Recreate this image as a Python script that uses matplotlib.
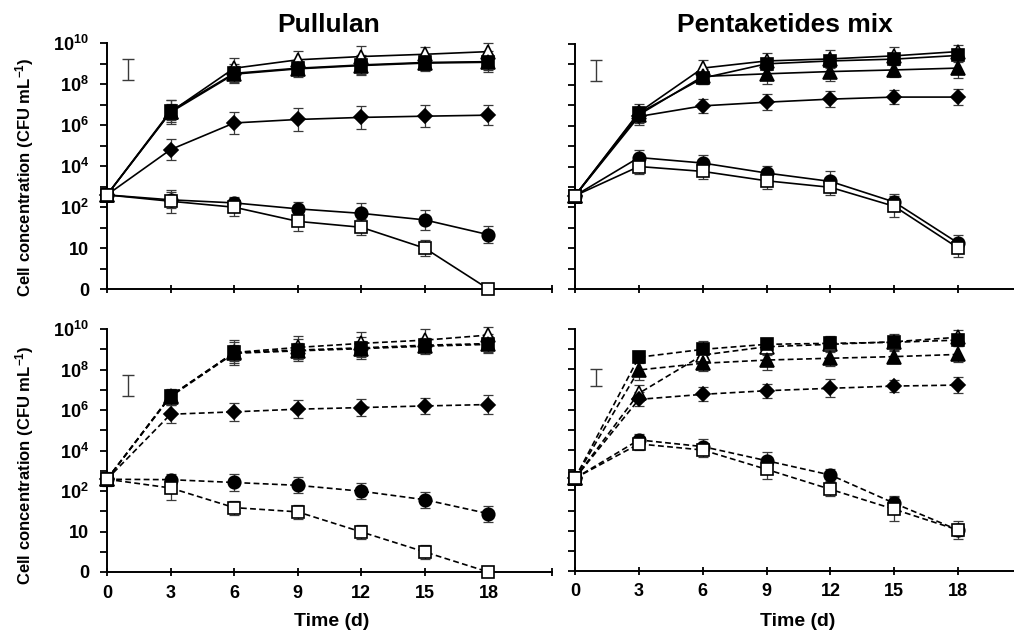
import matplotlib
matplotlib.use("Agg")
import matplotlib.pyplot as plt

plt.rcParams['font.family'] = ['Liberation Sans', 'DejaVu Sans']
plt.rcParams['font.weight'] = 'bold'
plt.rcParams['mathtext.fontset'] = 'custom'
plt.rcParams['mathtext.rm'] = 'Liberation Sans:bold'
plt.rcParams['mathtext.bf'] = 'Liberation Sans:bold'
plt.rcParams['mathtext.it'] = 'Liberation Sans:bold'

# sampling days
days = [0, 3, 6, 9, 12, 15, 18]

# values are in axis position units: 0='0', 2='10', 4='10^2', 6='10^4', 8='10^6', 10='10^8', 12='10^10'
ytick_pos = [0, 2, 4, 6, 8, 10, 12]
ytick_lab = ['0', '10', r'$10^{2}$', r'$10^{4}$', r'$10^{6}$', r'$10^{8}$', r'$10^{10}$']
xtick_pos = [0, 3, 6, 9, 12, 15, 18, 21]
xtick_lab = ['0', '3', '6', '9', '12', '15', '18', '']

titles = ['Pullulan', 'Pentaketides mix']

# top-left: pullulan, solid
pul_tri_o = [4.59, 8.64, 10.77, 11.18, 11.34, 11.45, 11.58]
pul_tri_o_err = [0.3, 0.6, 0.5, 0.45, 0.5, 0.35, 0.4]
pul_sq_f = [4.59, 8.68, 10.52, 10.77, 10.93, 11.05, 11.09]
pul_sq_f_err = [0.3, 0.55, 0.45, 0.35, 0.5, 0.35, 0.5]
pul_tri_f = [4.59, 8.62, 10.48, 10.74, 10.90, 11.02, 11.06]
pul_tri_f_err = [0.3, 0.4, 0.4, 0.4, 0.4, 0.4, 0.4]
pul_dia = [4.59, 6.80, 8.10, 8.27, 8.37, 8.43, 8.48]
pul_dia_err = [0.3, 0.5, 0.55, 0.55, 0.55, 0.55, 0.5]
pul_circ = [4.59, 4.35, 4.20, 3.91, 3.69, 3.37, 2.65]
pul_circ_err = [0.3, 0.4, 0.3, 0.35, 0.5, 0.5, 0.4]
pul_sq_o = [4.59, 4.28, 3.99, 3.30, 3.01, 1.99, 0.0]
pul_sq_o_err = [0.3, 0.55, 0.45, 0.45, 0.4, 0.4, 0.0]

# top-right: pentaketides mix, solid
pk_tri_o = [4.57, 8.65, 10.82, 11.17, 11.27, 11.42, 11.63]
pk_tri_o_err = [0.3, 0.4, 0.4, 0.4, 0.45, 0.45, 0.3]
pk_sq_f = [4.57, 8.61, 10.33, 11.03, 11.17, 11.26, 11.44]
pk_sq_f_err = [0.3, 0.3, 0.3, 0.3, 0.3, 0.3, 0.3]
pk_tri_f = [4.57, 8.53, 10.41, 10.54, 10.65, 10.73, 10.82]
pk_tri_f_err = [0.3, 0.4, 0.35, 0.5, 0.45, 0.35, 0.5]
pk_dia = [4.57, 8.45, 8.97, 9.15, 9.30, 9.40, 9.40]
pk_dia_err = [0.3, 0.4, 0.35, 0.4, 0.4, 0.35, 0.4]
pk_circ = [4.57, 6.44, 6.17, 5.68, 5.27, 4.26, 2.25]
pk_circ_err = [0.3, 0.35, 0.4, 0.35, 0.5, 0.4, 0.4]
pk_sq_o = [4.57, 6.00, 5.76, 5.30, 4.98, 4.05, 2.01]
pk_sq_o_err = [0.3, 0.35, 0.35, 0.4, 0.4, 0.5, 0.45]

# bottom-left: pullulan, dashed
pul2_tri_o = [4.58, 8.70, 10.84, 11.09, 11.29, 11.45, 11.70]
pul2_tri_o_err = [0.3, 0.3, 0.5, 0.55, 0.55, 0.55, 0.4]
pul2_sq_f = [4.58, 8.70, 10.84, 10.96, 11.07, 11.20, 11.28]
pul2_sq_f_err = [0.3, 0.3, 0.6, 0.55, 0.55, 0.35, 0.45]
pul2_tri_f = [4.58, 8.66, 10.80, 10.92, 11.03, 11.15, 11.24]
pul2_tri_f_err = [0.3, 0.4, 0.4, 0.4, 0.4, 0.4, 0.4]
pul2_dia = [4.58, 7.79, 7.91, 8.04, 8.12, 8.20, 8.27]
pul2_dia_err = [0.3, 0.45, 0.45, 0.45, 0.4, 0.4, 0.45]
pul2_circ = [4.58, 4.56, 4.42, 4.28, 3.99, 3.57, 2.88]
pul2_circ_err = [0.3, 0.3, 0.4, 0.4, 0.4, 0.4, 0.4]
pul2_sq_o = [4.58, 4.15, 3.18, 2.97, 1.98, 0.99, 0.0]
pul2_sq_o_err = [0.35, 0.6, 0.35, 0.35, 0.35, 0.35, 0.0]

# bottom-right: pentaketides mix, dashed
pk2_tri_o = [4.60, 8.81, 10.71, 11.12, 11.24, 11.37, 11.59]
pk2_tri_o_err = [0.3, 0.4, 0.4, 0.4, 0.4, 0.4, 0.35]
pk2_sq_f = [4.60, 10.60, 10.99, 11.24, 11.29, 11.34, 11.45]
pk2_sq_f_err = [0.3, 0.3, 0.4, 0.3, 0.3, 0.3, 0.3]
pk2_tri_f = [4.60, 9.97, 10.30, 10.46, 10.55, 10.63, 10.74]
pk2_tri_f_err = [0.3, 0.5, 0.4, 0.5, 0.4, 0.3, 0.4]
pk2_dia = [4.60, 8.51, 8.76, 8.94, 9.06, 9.17, 9.22]
pk2_dia_err = [0.3, 0.35, 0.35, 0.35, 0.45, 0.3, 0.4]
pk2_circ = [4.60, 6.50, 6.17, 5.47, 4.76, 3.36, 2.03]
pk2_circ_err = [0.3, 0.3, 0.4, 0.45, 0.3, 0.35, 0.3]
pk2_sq_o = [4.60, 6.30, 6.00, 5.04, 4.05, 3.06, 2.03]
pk2_sq_o_err = [0.3, 0.3, 0.35, 0.5, 0.35, 0.6, 0.45]

# mean SD bar in the corner of each panel (x, centre, half length)
sd_bars = [(1, 10.7, 0.52), (1, 10.7, 0.52), (1, 9.2, 0.52), (1, 9.6, 0.42)]

# marker, face colour
styles = [('^', 'white'), ('s', 'black'), ('^', 'black'), ('D', 'black'), ('o', 'black'), ('s', 'white')]
msizes = [10, 9, 10, 7.5, 9, 9]

panels = [
    [(pul_tri_o, pul_tri_o_err), (pul_sq_f, pul_sq_f_err), (pul_tri_f, pul_tri_f_err),
     (pul_dia, pul_dia_err), (pul_circ, pul_circ_err), (pul_sq_o, pul_sq_o_err)],
    [(pk_tri_o, pk_tri_o_err), (pk_sq_f, pk_sq_f_err), (pk_tri_f, pk_tri_f_err),
     (pk_dia, pk_dia_err), (pk_circ, pk_circ_err), (pk_sq_o, pk_sq_o_err)],
    [(pul2_tri_o, pul2_tri_o_err), (pul2_sq_f, pul2_sq_f_err), (pul2_tri_f, pul2_tri_f_err),
     (pul2_dia, pul2_dia_err), (pul2_circ, pul2_circ_err), (pul2_sq_o, pul2_sq_o_err)],
    [(pk2_tri_o, pk2_tri_o_err), (pk2_sq_f, pk2_sq_f_err), (pk2_tri_f, pk2_tri_f_err),
     (pk2_dia, pk2_dia_err), (pk2_circ, pk2_circ_err), (pk2_sq_o, pk2_sq_o_err)],
]

W, H = 1014, 634
fig = plt.figure(figsize=(W / 100, H / 100), dpi=100)

# axes boxes in pixels: left, top, right, bottom
boxes = [(107, 43, 552, 289), (575, 44, 1022, 289), (107, 329, 552, 572), (575, 329, 1022, 571)]

for i, (l, t, r, b) in enumerate(boxes):
    ax = fig.add_axes([l / W, 1 - b / H, (r - l) / W, (b - t) / H])
    ls = '-' if i < 2 else (0, (3.5, 2))
    for (vals, errs), (m, fc), ms in zip(panels[i], styles, msizes):
        ax.errorbar(days, vals, yerr=errs, color='black', ecolor='#3a3a3a', elinewidth=0.9,
                    capsize=3.5, capthick=0.9, zorder=2, clip_on=False, linestyle='none')
        ax.plot(days, vals, color='black', lw=1.2, linestyle=ls, marker=m, ms=ms,
                mfc=fc, mec='black', mew=1.2, zorder=3, clip_on=False)
    sx, sy, sh = sd_bars[i]
    ax.errorbar([sx], [sy], yerr=[sh], color='#3a3a3a', elinewidth=1.0, capsize=4, capthick=1.0)

    ax.set_xlim(0, 21)
    ax.set_ylim(0, 12)
    ax.set_yticks(ytick_pos)
    ax.set_yticks(range(1, 12, 2), minor=True)
    ax.set_xticks(xtick_pos)
    for s in ['top', 'right']:
        ax.spines[s].set_visible(False)
    for s in ['left', 'bottom']:
        ax.spines[s].set_linewidth(1.4)
    ax.tick_params(axis='y', which='major', direction='out', length=5, width=1.3, pad=8, labelsize=13)
    ax.tick_params(axis='y', which='minor', direction='out', length=5, width=1.3)
    ax.tick_params(axis='x', direction='inout', length=6, width=1.3, pad=6, labelsize=13)
    if i % 2 == 0:
        ax.set_yticklabels(ytick_lab)
    else:
        ax.set_yticklabels([])
    if i >= 2:
        ax.set_xticklabels(xtick_lab)
    else:
        ax.set_xticklabels([])

fig.text(329 / W, 1 - 25 / H, titles[0], ha='center', va='center', fontsize=19, fontweight='bold')
fig.text(785 / W, 1 - 25 / H, titles[1], ha='center', va='center', fontsize=19, fontweight='bold')
for yc in [177, 465]:
    fig.text(25 / W, 1 - yc / H, r'Cell concentration (CFU mL$^{-1}$)', rotation=90,
             ha='center', va='center', fontsize=12, fontweight='bold')
fig.text(332 / W, 1 - 622 / H, 'Time (d)', ha='center', va='center', fontsize=14, fontweight='bold')
fig.text(798 / W, 1 - 622 / H, 'Time (d)', ha='center', va='center', fontsize=14, fontweight='bold')

fig.savefig('out.png', dpi=100)
